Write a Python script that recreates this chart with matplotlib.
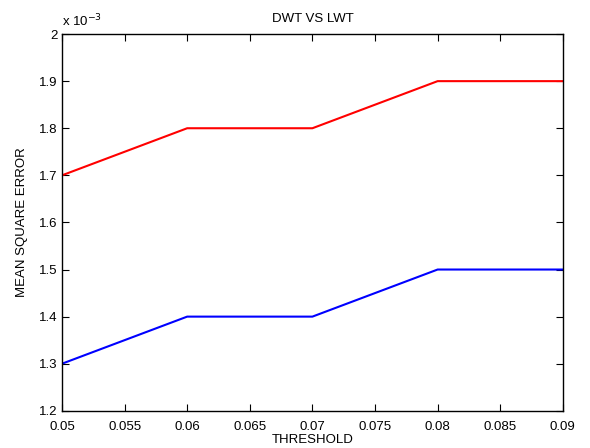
import matplotlib
matplotlib.use("Agg")
import matplotlib.pyplot as plt
from matplotlib.ticker import FuncFormatter

plt.rcParams['font.family'] = ['Liberation Sans', 'DejaVu Sans']

threshold = [0.05, 0.06, 0.07, 0.08, 0.09]
mse_dwt = [1.7e-3, 1.8e-3, 1.8e-3, 1.9e-3, 1.9e-3]
mse_lwt = [1.3e-3, 1.4e-3, 1.4e-3, 1.5e-3, 1.5e-3]
xticks = [0.05, 0.055, 0.06, 0.065, 0.07, 0.075, 0.08, 0.085, 0.09]
yticks = [1.2e-3, 1.3e-3, 1.4e-3, 1.5e-3, 1.6e-3, 1.7e-3, 1.8e-3, 1.9e-3, 2.0e-3]

fig = plt.figure(figsize=(5.9, 4.48), dpi=100)
ax = fig.add_axes([0.105, 0.083, 0.849, 0.841])
ax.plot(threshold, mse_dwt, color='red', linewidth=1.5)
ax.plot(threshold, mse_lwt, color='blue', linewidth=1.5)

ax.set_xlim(0.05, 0.09)
ax.set_ylim(1.2e-3, 2.0e-3)
ax.set_xticks(xticks)
ax.set_yticks(yticks)
ax.xaxis.set_major_formatter(FuncFormatter(lambda v, p: f"{v:g}"))
ax.yaxis.set_major_formatter(FuncFormatter(lambda v, p: f"{v * 1e3:g}"))
ax.tick_params(direction='in', top=True, right=True, labelsize=9.5, length=5)
ax.tick_params(axis='x', pad=7)
ax.tick_params(axis='y', pad=3)
for s in ax.spines.values():
    s.set_linewidth(1.0)

ax.text(0.0, 1.012, r"x 10$^{-3}$", transform=ax.transAxes, fontsize=9.5, ha='left', va='bottom')
ax.set_title("DWT VS LWT", fontsize=9.5, pad=9)
ax.set_xlabel("THRESHOLD", fontsize=9.5, labelpad=1)
ax.set_ylabel("MEAN SQUARE ERROR", fontsize=9.5, labelpad=8)

fig.savefig("out.png", dpi=100)
